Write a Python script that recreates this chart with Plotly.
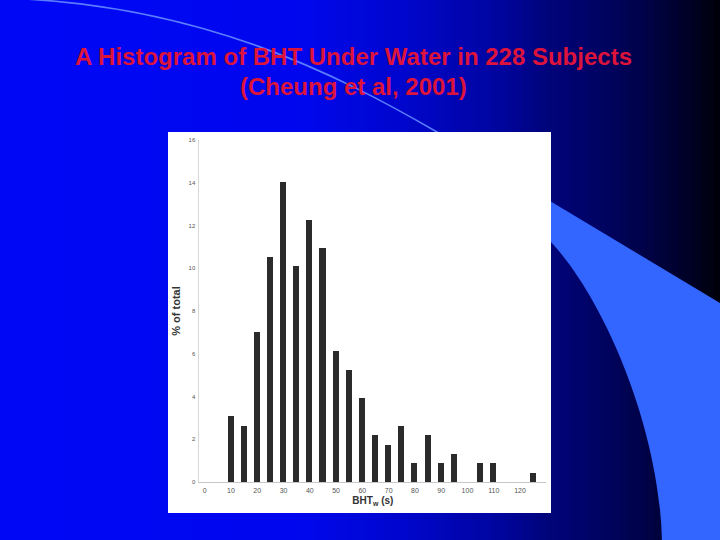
import numpy as np
import plotly.graph_objects as go

# ---- data ----
bht_bins = [10, 15, 20, 25, 30, 35, 40, 45, 50, 55, 60, 65, 70, 75, 80, 85, 90, 95, 105, 110, 125]
pct_total = [3.07, 2.63, 7.02, 10.53, 14.04, 10.09, 12.28, 10.96, 6.14, 5.26, 3.95,
             2.19, 1.75, 2.63, 0.88, 2.19, 0.88, 1.32, 0.88, 0.88, 0.44]
x_ticks = [0, 10, 20, 30, 40, 50, 60, 70, 80, 90, 100, 110, 120]
y_ticks = [0, 2, 4, 6, 8, 10, 12, 14, 16]
title_line1 = "A Histogram of BHT Under Water in 228 Subjects"
title_line2 = "(Cheung et al, 2001)"

W, H = 720, 540


def px(x):
    return x / W


def py(y):
    return 1 - y / H


def path(cmds):
    out = []
    for c in cmds:
        if isinstance(c, str):
            out.append(c)
        else:
            out.append(f"{px(c[0]):.5f},{py(c[1]):.5f}")
    return " ".join(out)


shapes = []
# background gradient (blue -> black, left to right)
stops_x = [0, 300, 400, 500, 550, 600, 650, 700, 720]
stops_b = [245, 238, 205, 158, 120, 98, 68, 28, 8]
step = 6
for x0 in range(0, W, step):
    b = float(np.interp(x0 + step / 2, stops_x, stops_b))
    g = max(0, b * 0.03)
    shapes.append(dict(type="rect", xref="paper", yref="paper", layer="below",
                       x0=px(x0), x1=px(x0 + step + 0.6), y0=0, y1=1,
                       fillcolor=f"rgb(0,{g:.0f},{b:.0f})", line=dict(width=0)))

# decorative light-blue shape on the right
shapes.append(dict(type="path", xref="paper", yref="paper", layer="below",
                   path=path(["M", (540, 195), "L", (720, 303), "L", (722, 542), "L", (662, 542),
                              "C", (660, 430), (605, 300), (551, 242), "L", (540, 232), "Z"]),
                   fillcolor="#3366FF", line=dict(width=0)))
# thin arc
shapes.append(dict(type="path", xref="paper", yref="paper", layer="below",
                   path=path(["M", (0, -2), "C", (200, 3), (340, 76), (437, 132), "L", (460, 146)]),
                   line=dict(color="rgb(90,125,255)", width=1.6)))
# white picture box
shapes.append(dict(type="rect", xref="paper", yref="paper", layer="below",
                   x0=px(168), x1=px(551), y0=py(513), y1=py(132),
                   fillcolor="white", line=dict(width=0)))

fig = go.Figure()
fig.add_trace(go.Bar(x=bht_bins, y=pct_total, width=2.3,
                     marker=dict(color="#2b2b2b", line=dict(width=0)),
                     showlegend=False, hoverinfo="x+y"))

x_lo, x_hi = -2, 130
x0pix, x120pix = 204.7, 520.0
scale = (x120pix - x0pix) / 120
dom_x0 = (x0pix + x_lo * scale) / W
dom_x1 = (x0pix + x_hi * scale) / W

fig.update_layout(
    width=W, height=H,
    margin=dict(l=0, r=0, t=0, b=0, autoexpand=False),
    paper_bgcolor="rgb(0,0,240)",
    plot_bgcolor="rgba(0,0,0,0)",
    shapes=shapes,
    bargap=0,
    font=dict(family="Liberation Sans, Arial, sans-serif"),
    xaxis=dict(domain=[dom_x0, dom_x1], range=[x_lo, x_hi],
               tickmode="array", tickvals=x_ticks, ticktext=[str(v) for v in x_ticks],
               ticks="outside", ticklen=2, tickcolor="rgba(0,0,0,0)",
               showline=True, linecolor="#c8c8c8", linewidth=1,
               showgrid=False, zeroline=False,
               tickfont=dict(size=7, color="#555555"),
               title=dict(text="<b>BHT<sub>w</sub> (s)</b>", standoff=3,
                          font=dict(size=10, color="#333333"))),
    yaxis=dict(domain=[py(482), py(140)], range=[0, 16],
               tickmode="array", tickvals=y_ticks, ticktext=[str(v) for v in y_ticks],
               ticks="outside", ticklen=2, tickcolor="rgba(0,0,0,0)",
               showline=True, linecolor="#d8d8d8", linewidth=1,
               showgrid=False, zeroline=False,
               tickfont=dict(size=6, color="#555555"),
               title=dict(text="<b>% of total</b>", standoff=5,
                          font=dict(size=11, color="#333333",
                                    family="Liberation Sans Narrow, Arial Narrow, sans-serif"))),
    annotations=[
        dict(text=f"<b>{title_line1}</b>", x=px(353.5), y=py(57), xref="paper", yref="paper",
             xanchor="center", yanchor="middle", showarrow=False,
             font=dict(size=24, color="#DC143C", family="Liberation Sans, Arial, sans-serif")),
        dict(text=f"<b>{title_line2}</b>", x=px(353.5), y=py(87), xref="paper", yref="paper",
             xanchor="center", yanchor="middle", showarrow=False,
             font=dict(size=24, color="#DC143C", family="Liberation Sans, Arial, sans-serif")),
    ],
)

fig.write_html("out.html", config={"displayModeBar": False},
               post_script="document.body.style.margin='0';document.body.style.overflow='hidden';")
